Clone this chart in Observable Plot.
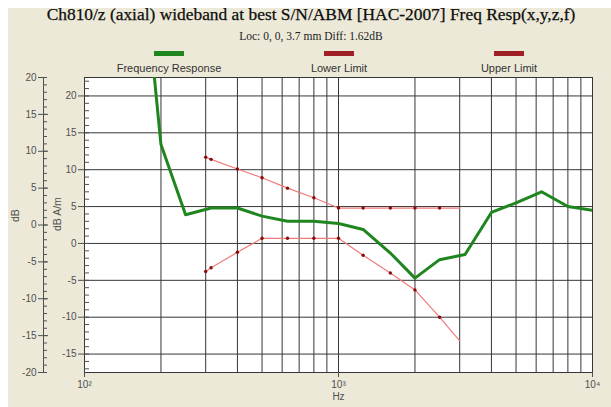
<!DOCTYPE html>
<html><head><meta charset="utf-8">
<script src="https://cdn.jsdelivr.net/npm/d3@7"></script>
<script src="https://cdn.jsdelivr.net/npm/@observablehq/plot@0.6"></script>
<style>
html,body{margin:0;padding:0;background:#fff;}
#wrap{position:relative;width:611px;height:407px;overflow:hidden;}
#panel{position:absolute;left:8px;top:8px;width:603px;height:399px;background:#ece9d8;}
.c{position:absolute;white-space:nowrap;transform:translateX(-50%);}
#title{left:311px;top:5px;font:17.4px "Liberation Serif",serif;color:#0d0d0d;line-height:18px;-webkit-text-stroke:0.25px #0d0d0d;}
#sub{left:311px;top:30px;font:11.5px "Liberation Serif",serif;color:#222;line-height:13px;}
.sw{position:absolute;width:30px;height:5px;top:51px;transform:translateX(-50%);}
.lab{position:absolute;top:62px;font:11px "Liberation Sans",Arial,sans-serif;color:#333;transform:translateX(-50%);line-height:12px;white-space:nowrap;}
#chart{position:absolute;left:0;top:70px;}
</style></head>
<body><div id="wrap"><div id="panel"></div>
<div id="title" class="c">Ch810/z (axial) wideband at best S/N/ABM [HAC-2007] Freq Resp(x,y,z,f)</div>
<div id="sub" class="c">Loc: 0, 0, 3.7 mm Diff: 1.62dB</div>
<div id="legend"></div>
<div id="chart"></div></div>
<script>
// ---- data ----
const freqHz = [160,200,250,315,400,500,630,800,1000,1250,1600,2000,2500,3150,4000,5000,6300,8000,10000];
const responseDb = [47.5,13.4,3.9,4.8,4.8,3.7,3.0,3.0,2.7,1.9,-1.3,-4.7,-2.2,-1.5,4.2,5.5,7.0,5.0,4.5];
const limitHz = [300,315,400,500,630,800,1000,1250,1600,2000,2500,3000];
const upperDb = [11.7,11.4,10.1,8.9,7.5,6.2,4.8,4.8,4.8,4.8,4.8,4.8];
const lowerDb = [-3.8,-3.3,-1.2,0.7,0.7,0.7,0.7,-1.6,-4.0,-6.3,-10.0,-13.2];
const seriesNames = ["Frequency Response","Lower Limit","Upper Limit"];
const seriesColors = ["#1f861f","#9e1f25","#9e1f25"];
const yTicks = [-15,-10,-5,0,5,10,15,20];          // dB A/m (inner axis)
const outerTicks = [-20,-15,-10,-5,0,5,10,15,20];  // dB (outer axis)
const outerOffset = 2.5;                            // dB = dB A/m - 2.5
const xTicks = [100,1000,10000];
const xTickLabels = ["10\u00b2","10\u00b3","10\u2074"];

// ---- legend ----
const legendX = [169,339,509];
const leg = document.getElementById("legend");
seriesNames.forEach((n,i)=>{
  const s=document.createElement("div"); s.className="sw"; s.style.left=legendX[i]+"px"; s.style.background=seriesColors[i]; leg.appendChild(s);
  const l=document.createElement("div"); l.className="lab"; l.style.left=legendX[i]+"px"; l.textContent=n; leg.appendChild(l);
});

const resp = freqHz.map((f,i)=>({f, db: responseDb[i]}));
const upper = limitHz.map((f,i)=>({f, db: upperDb[i]}));
const lower = limitHz.map((f,i)=>({f, db: lowerDb[i]}));
const xDomain = [100,10000];
const xGrid = d3.scaleLog().domain(xDomain).ticks();
const minorY = d3.range(-17, 23);
const outerMajor = outerTicks.map(v=>v+outerOffset);
const outerMinor = d3.range(-20, 21).map(v=>v+outerOffset);
const grid = "#363636", axisC = "#505050";

const chart = Plot.plot({
  width: 611, height: 337,
  marginLeft: 84, marginRight: 19, marginTop: 7, marginBottom: 35,
  style: {background: "transparent", fontFamily: "'Liberation Sans', Arial, sans-serif", fontSize: "10px", color: axisC, overflow: "visible"},
  x: {type: "log", domain: xDomain, axis: null},
  y: {domain: [-17.5, 22.5], axis: null},
  marks: [
    Plot.frame({fill: "white", stroke: null}),
    Plot.ruleX(xGrid, {stroke: grid, strokeWidth: 1}),
    Plot.ruleY(yTicks, {stroke: grid, strokeWidth: 1}),
    Plot.frame({stroke: grid}),
    // inner axis (dB A/m)
    Plot.axisY(yTicks, {anchor: "left", tickSize: 6, tickPadding: 2, tickFormat: d => String(d), label: null, color: axisC}),
    Plot.axisY(minorY, {anchor: "left", tickSize: 5, dx: 5, fill: "none", stroke: axisC, label: null}),
    Plot.text(["dB A/m"], {frameAnchor: "left", dx: -27, dy: 6, rotate: -90, fill: axisC, fontSize: 10.5}),
    // outer axis (dB)
    Plot.ruleX(xDomain.slice(0,1), {dx: -41, stroke: axisC}),
    Plot.axisY(outerMajor.slice(1,-1), {anchor: "left", tickSize: 10, dx: -36, fill: "none", stroke: axisC, label: null}),
    Plot.axisY([outerMajor[0], outerMajor[outerMajor.length-1]], {anchor: "left", tickSize: 5, dx: -41, fill: "none", stroke: axisC, label: null}),
    Plot.axisY(outerMinor, {anchor: "left", tickSize: 4, dx: -37, fill: "none", stroke: axisC, label: null}),
    Plot.axisY(outerMajor, {anchor: "left", tickSize: 0, dx: -41, tickPadding: 7, tickFormat: d => String(Math.round(d - outerOffset)), label: null, color: axisC}),
    Plot.text(["dB"], {frameAnchor: "left", dx: -69, dy: -3, rotate: -90, fill: axisC, fontSize: 10.5}),
    // x axis
    Plot.axisX(xTicks, {anchor: "bottom", tickSize: 5, tickPadding: 3, tickFormat: d => xTickLabels[xTicks.indexOf(d)], label: null, color: axisC}),
    Plot.text(["Hz"], {frameAnchor: "bottom", dy: 27, fill: axisC, fontSize: 10}),
    // data
    Plot.line(upper, {x: "f", y: "db", stroke: "#f07a7a", strokeWidth: 1.2}),
    Plot.line(lower, {x: "f", y: "db", stroke: "#f07a7a", strokeWidth: 1.2}),
    Plot.dot(upper.filter(d => d.f < 3000), {x: "f", y: "db", r: 1.7, fill: "#8a0a0a", stroke: null}),
    Plot.dot(lower.filter(d => d.f < 3000), {x: "f", y: "db", r: 1.7, fill: "#8a0a0a", stroke: null}),
    Plot.line(resp, {x: "f", y: "db", stroke: seriesColors[0], strokeWidth: 3, clip: true})
  ]
});
document.getElementById("chart").appendChild(chart);
</script></body></html>
